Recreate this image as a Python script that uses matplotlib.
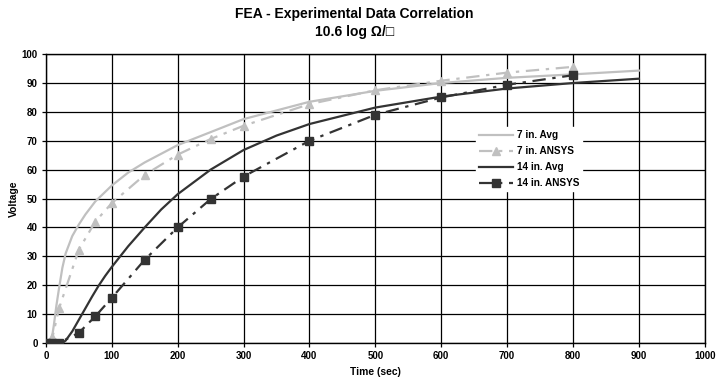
"""
Plot FEA vs experimental voltage curves for the 7 in. and 14 in. samples.
"""
import matplotlib.pyplot as plt

plt.rcParams["font.family"] = ["Liberation Sans", "DejaVu Sans"]
plt.rcParams["font.weight"] = "bold"

# measured averages (seconds, volts)
avg7_t = [0, 5, 8, 12, 16, 20, 25, 30, 40, 50, 60, 75, 100, 125, 150, 200,
          250, 300, 400, 500, 600, 700, 800, 900]
avg7_v = [0, 0, 0, 6, 13, 19, 26, 31, 37, 41, 44.5, 49, 54.5, 59, 62.5, 68.5,
          73, 77.5, 83.5, 87.3, 90, 91.8, 93, 94.3]

avg14_t = [0, 20, 25, 30, 40, 50, 60, 70, 80, 90, 100, 125, 150, 175, 200,
           250, 300, 350, 400, 500, 600, 700, 800, 900]
avg14_v = [0, 0, 0, 0.8, 4, 8, 12, 16, 19.8, 23.2, 26.3, 33.5, 40, 46.2,
           51.5, 60, 66.8, 71.8, 75.8, 81.5, 85.3, 88.1, 90, 91.5]

# ANSYS results
ansys_t = [0, 10, 20, 50, 75, 100, 150, 200, 250, 300, 400, 500, 600, 700, 800]
ansys7_v = [0, 2, 12, 32.3, 42, 48.4, 58.2, 65.2, 70.6, 75.2, 82.7, 87.5,
            90.8, 93.6, 95.6]
ansys14_v = [0, 0, 0, 3.5, 9.2, 15.6, 28.8, 40, 49.8, 57.6, 70, 79, 85,
             89.4, 92.7]

LIGHT = "#c0c0c0"
DARK = "#333333"

fig = plt.figure(figsize=(7.17, 3.84), dpi=100)
ax = fig.add_axes([0.064, 0.107, 0.919, 0.752])

ax.plot(avg7_t, avg7_v, color=LIGHT, lw=1.6, label="7 in. Avg", zorder=3)
ax.plot(ansys_t, ansys7_v, color=LIGHT, lw=1.6, ls=(0, (6, 3, 1.5, 3)),
        marker="^", ms=6, label="7 in. ANSYS", zorder=3)
ax.plot(avg14_t, avg14_v, color=DARK, lw=1.6, label="14 in. Avg", zorder=4)
ax.plot(ansys_t, ansys14_v, color=DARK, lw=1.6, ls=(0, (6, 3, 1.5, 3)),
        marker="s", ms=6, label="14 in. ANSYS", zorder=4)

ax.set_xlim(0, 1000)
ax.set_ylim(0, 100)
ax.set_xticks(range(0, 1001, 100))
ax.set_yticks(range(0, 101, 10))
ax.grid(True, color="black", lw=0.9)
ax.set_axisbelow(True)
ax.tick_params(labelsize=7, length=3, width=0.9, pad=3)
for lab in ax.get_xticklabels() + ax.get_yticklabels():
    lab.set_fontweight("bold")
for s in ax.spines.values():
    s.set_linewidth(1.0)

ax.set_xlabel("Time (sec)", fontsize=7.4, fontweight="bold", labelpad=4)
ax.set_ylabel("Voltage", fontsize=7.4, fontweight="bold", labelpad=2)

fig.text(0.494, 0.963, "FEA - Experimental Data Correlation", ha="center",
         va="center", fontsize=10, fontweight="bold")
fig.text(0.494, 0.916, "10.6 log \u03a9/\u25a1", ha="center", va="center",
         fontsize=10, fontweight="bold")

leg = ax.legend(loc="upper left", bbox_to_anchor=(0.6525, 0.747), fontsize=7.2,
                frameon=True, fancybox=False, handlelength=3.4,
                handletextpad=0.4, borderpad=0.3, labelspacing=0.6,
                borderaxespad=0)
leg.get_frame().set_edgecolor("white")
leg.get_frame().set_alpha(1)
for t in leg.get_texts():
    t.set_fontweight("bold")

fig.savefig("out.png", dpi=100)
